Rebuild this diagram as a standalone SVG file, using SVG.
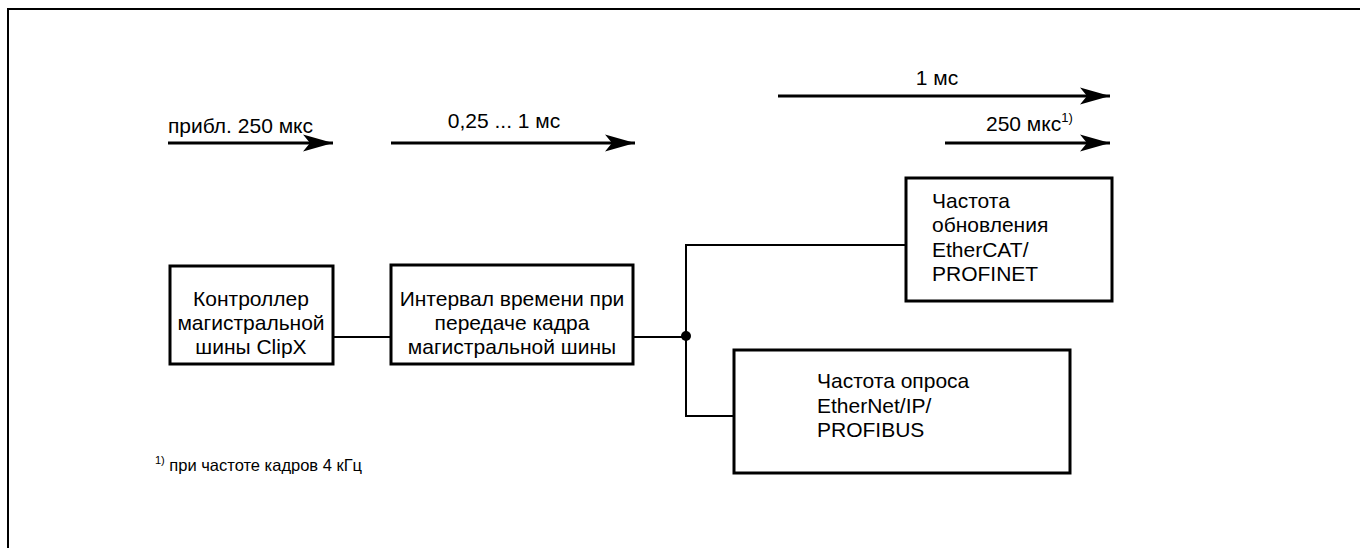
<svg xmlns="http://www.w3.org/2000/svg" width="1360" height="548" viewBox="0 0 1360 548">
<style>
text{font-family:"Liberation Sans",Arial,sans-serif;font-size:21px;fill:#000}
.c{text-anchor:middle}
.box{fill:#fff;stroke:#000;stroke-width:3}
.ln{fill:none;stroke:#000;stroke-width:2}
.arr{fill:none;stroke:#000;stroke-width:3}
.sup{font-size:13px}
.fn{font-size:16.5px}
.fsup{font-size:11px}
</style>
<defs>
<marker id="ah" markerUnits="userSpaceOnUse" markerWidth="32" markerHeight="20" refX="30" refY="9" orient="auto" viewBox="0 0 32 18">
<path d="M0,0.5 L30,9 L0,17.5 L7,9 Z" fill="#000"/>
</marker>
</defs>
<rect x="8" y="9" width="1400" height="600" fill="none" stroke="#000" stroke-width="2"/>
<g id="timing">
<line class="arr" x1="168" y1="143" x2="333" y2="143" marker-end="url(#ah)"/>
<text x="168" y="133">прибл. 250 мкс</text>
<line class="arr" x1="391" y1="143" x2="635" y2="143" marker-end="url(#ah)"/>
<text class="c" x="504" y="128">0,25 ... 1 мс</text>
<line class="arr" x1="778" y1="96" x2="1110" y2="96" marker-end="url(#ah)"/>
<text class="c" x="937" y="85">1 мс</text>
<line class="arr" x1="945" y1="143" x2="1110" y2="143" marker-end="url(#ah)"/>
<text x="986" y="131">250 мкс<tspan class="sup" dy="-9">1)</tspan></text>
</g>
<g id="connectors">
<line class="ln" x1="333" y1="337" x2="391" y2="337"/>
<line class="ln" x1="633" y1="337" x2="686" y2="337"/>
<polyline class="ln" points="906,245 686,245 686,416 734,416"/>
<circle cx="686" cy="336" r="5" fill="#000"/>
</g>
<g id="node1">
<rect class="box" x="170" y="266" width="163" height="98"/>
<text class="c" x="251" y="306">Контроллер</text>
<text class="c" x="251" y="330">магистральной</text>
<text class="c" x="251" y="354">шины ClipX</text>
</g>
<g id="node2">
<rect class="box" x="391" y="265" width="242" height="99"/>
<text class="c" x="512" y="306">Интервал времени при</text>
<text class="c" x="512" y="330">передаче кадра</text>
<text class="c" x="512" y="354">магистральной шины</text>
</g>
<g id="node3">
<rect class="box" x="906" y="178" width="206" height="123"/>
<text x="932" y="208">Частота</text>
<text x="932" y="232">обновления</text>
<text x="932" y="257">EtherCAT/</text>
<text x="932" y="281">PROFINET</text>
</g>
<g id="node4">
<rect class="box" x="734" y="350" width="336" height="123"/>
<text x="817" y="388">Частота опроса</text>
<text x="817" y="413">EtherNet/IP/</text>
<text x="817" y="437">PROFIBUS</text>
</g>
<g id="footnote">
<text class="fn" x="155" y="471"><tspan class="fsup" dy="-7">1)</tspan><tspan dy="7"> при частоте кадров 4 кГц</tspan></text>
</g>
</svg>
